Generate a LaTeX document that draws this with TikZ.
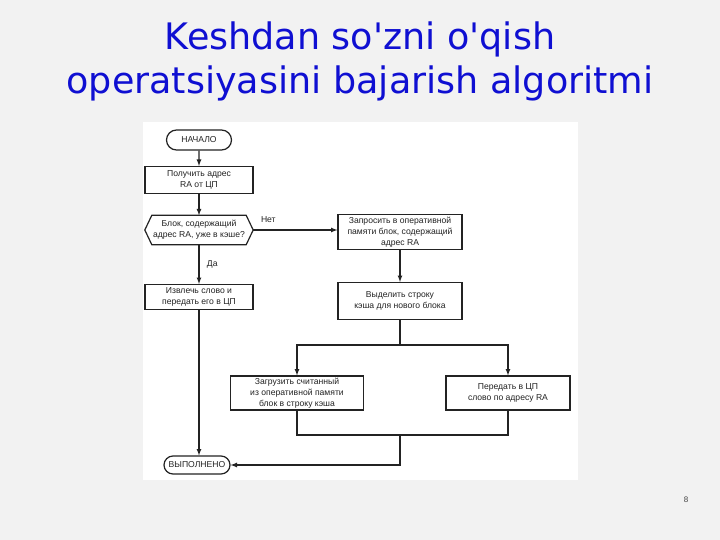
\documentclass[tikz,border=0pt]{standalone}
\usepackage{fontspec}
\setmainfont{Liberation Sans}
\newfontfamily\titlefont{DejaVu Sans}
\usepackage{tikz}
\usetikzlibrary{arrows,shapes.misc}

\definecolor{titleblue}{RGB}{15,15,210}
\definecolor{slidebg}{RGB}{242,242,242}
\definecolor{inkgray}{RGB}{35,35,35}

\tikzset{
    box/.style={draw=inkgray, line width=1.2pt, inner sep=1pt, align=center,
        font=\fontsize{8.6}{11}\selectfont, text=inkgray},
    term/.style={box, rounded rectangle},
    flow/.style={draw=inkgray, line width=1.2pt, -latex},
    line/.style={draw=inkgray, line width=1.2pt},
    lbl/.style={font=\fontsize{8.6}{11}\selectfont, text=inkgray},
}

\begin{document}
\begin{tikzpicture}[x=1pt, y=-1pt]
    \useasboundingbox (0,0) rectangle (720,540);
    \fill[slidebg] (0,0) rectangle (720,540);
    \fill[white] (143,122) rectangle (578,480);

    % title
    \node[font=\titlefont\fontsize{36.5}{44}\selectfont, text=titleblue, align=center] (title) at (360,61)
        {Keshdan so'zni o'qish\\operatsiyasini bajarish algoritmi};

    % left column
    \node[term, minimum width=67, minimum height=20] at (199,140) (start) {НАЧАЛО};
    \node[box, minimum width=108, minimum height=27] at (199,180) (getra) {Получить адрес\\RA от ЦП};
    \node[lbl, minimum width=108, minimum height=29, align=center] at (199,230) (check)
        {Блок, содержащий\\адрес RA, уже в кэше?};
    \draw[line] (check.west) -- ([xshift=7pt]check.north west) -- ([xshift=-7pt]check.north east)
        -- (check.east) -- ([xshift=-7pt]check.south east) -- ([xshift=7pt]check.south west) -- cycle;
    \node[box, minimum width=108, minimum height=25] at (199,297) (extract) {Извлечь слово и\\передать его в ЦП};
    \node[term, minimum width=68, minimum height=18] at (197,465) (done) {ВЫПОЛНЕНО};

    % right column
    \node[box, minimum width=124, minimum height=35] at (400,232) (request)
        {Запросить в оперативной\\памяти блок, содержащий\\адрес RA};
    \node[box, minimum width=124, minimum height=37] at (400,301) (alloc)
        {Выделить строку\\кэша для нового блока};
    \node[box, minimum width=133, minimum height=34] at (297,393) (load)
        {Загрузить считанный\\из оперативной памяти\\блок в строку кэша};
    \node[box, minimum width=124, minimum height=34] at (508,393) (send)
        {Передать в ЦП\\слово по адресу RA};

    \coordinate (split) at (400,345);
    \coordinate (join) at (400,435);

    \draw[flow] (start) -- (getra);
    \draw[flow] (getra) -- (check);
    \draw[flow] (check.east) -- node[lbl, above=3pt, pos=0.18] (no) {Нет} (request.west |- check.east);
    \draw[flow] (check) -- node[lbl, right=4pt] (yes) {Да} (extract);
    \draw[flow] (request) -- (alloc);
    \draw[line] (alloc) -- (split);
    \draw[flow] (split) -| (load);
    \draw[flow] (split) -| (send);
    \draw[line] (load) |- (join);
    \draw[line] (send) |- (join);
    \draw[flow] (join) |- (done);
    \draw[flow] (extract) -- (extract |- done.north);

    % slide number
    \node[font=\fontsize{8}{9}\selectfont, text=black!75] at (686,500) (pagenum) {8};
\end{tikzpicture}
\end{document}
